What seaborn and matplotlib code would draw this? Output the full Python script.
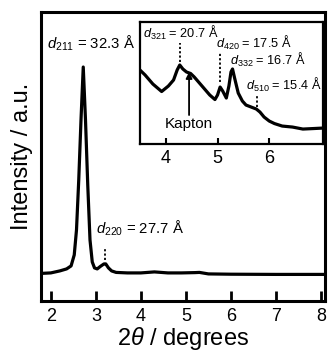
import matplotlib
matplotlib.use("Agg")
import matplotlib.pyplot as plt
import pandas as pd
import seaborn as sns

# main pattern (2theta in degrees, intensity in a.u.)
two_theta = [1.78, 2.0, 2.2, 2.35, 2.45, 2.52, 2.57, 2.62, 2.67, 2.72, 2.77, 2.82,
             2.87, 2.92, 2.97, 3.03, 3.1, 3.18, 3.22, 3.28, 3.35, 3.45, 3.7, 4.0,
             4.3, 4.6, 4.9, 5.2, 5.3, 5.5, 6.0, 7.0, 8.09]
intensity = [27.5, 28, 30, 32, 35, 46, 71, 121, 181, 234, 181, 116,
             61, 39, 33, 32, 34.5, 37, 37, 33, 30, 28.5, 28, 28,
             29, 28, 28, 28.3, 28.5, 27, 26.7, 26.5, 26.5]

# inset: zoom of 3.5-7 degrees
inset_theta = [3.5, 3.6, 3.75, 3.92, 4.05, 4.15, 4.22, 4.27, 4.33, 4.4, 4.48, 4.55,
               4.65, 4.75, 4.85, 4.95, 5.0, 5.05, 5.1, 5.17, 5.22, 5.26, 5.29, 5.33,
               5.4, 5.48, 5.55, 5.65, 5.75, 5.82, 5.9, 6.0, 6.1, 6.25, 6.45, 6.65,
               6.85, 7.04]
inset_int = [74, 69, 60, 52.5, 58, 64, 74, 79, 75, 72, 70.5, 67,
             61, 55, 49, 44.5, 49, 57, 53, 46, 58, 72, 75, 66,
             51, 43, 39, 37, 35, 32, 27, 23, 20.5, 18, 17, 15,
             15.5, 16]

kapton_x = 4.45

sns.set_style("ticks", {"axes.edgecolor": "black", "xtick.color": "black",
                        "text.color": "black", "axes.labelcolor": "black"})
plt.rcParams["font.family"] = ["Liberation Sans", "DejaVu Sans"]
plt.rcParams["mathtext.fontset"] = "custom"
plt.rcParams["mathtext.rm"] = "Liberation Sans"
plt.rcParams["mathtext.it"] = "Liberation Sans:italic"

main_df = pd.DataFrame({"x": two_theta, "y": intensity})
inset_df = pd.DataFrame({"x": inset_theta, "y": inset_int})

fig = plt.figure(figsize=(3.3, 3.54), dpi=100)
ax = fig.add_axes([0.124, 0.150, 0.861, 0.816])
sns.lineplot(data=main_df, x="x", y="y", ax=ax, color="black", lw=2.3)
ax.set_xlim(1.78, 8.09)
ax.set_ylim(0, 289)
ax.set_xticks(range(2, 9))
ax.set_yticks([])
ax.tick_params(axis="x", direction="in", length=7, width=2, labelsize=13, pad=5)
for s in ax.spines.values():
    s.set_linewidth(2.2)
ax.set_xlabel(r"2$\theta$ / degrees", fontsize=17, labelpad=0)
ax.set_ylabel("Intensity / a.u.", fontsize=17, labelpad=6)

ax.text(2.89, 258, r"$d_{211}$ = 32.3 Å", fontsize=10.7, ha="center", va="center")
ax.text(3.0, 73, r"$d_{220}$ = 27.7 Å", fontsize=10.7, ha="left", va="center")
ax.plot([3.21, 3.21], [41, 53], color="black", lw=1.3, ls=(0, (1.2, 1.2)))

ins = fig.add_axes([0.424, 0.593, 0.555, 0.345])
sns.lineplot(data=inset_df, x="x", y="y", ax=ins, color="black", lw=2.3)
ins.set_xlim(3.5, 7.04)
ins.set_ylim(0, 122)
ins.set_xticks([4, 5, 6])
ins.set_yticks([])
ins.set_xlabel("")
ins.set_ylabel("")
ins.tick_params(axis="x", direction="in", length=4, width=1.5, labelsize=13, pad=4)
for s in ins.spines.values():
    s.set_linewidth(1.6)

dot = dict(color="black", lw=1.3, ls=(0, (1.2, 1.2)))
ins.text(3.55, 111, r"$d_{321}$ = 20.7 Å", fontsize=9.2, ha="left", va="center")
ins.plot([4.27, 4.27], [82, 101], **dot)
ins.text(4.98, 101.5, r"$d_{420}$ = 17.5 Å", fontsize=9.2, ha="left", va="center")
ins.plot([5.05, 5.05], [62, 91], **dot)
ins.text(5.25, 84, r"$d_{332}$ = 16.7 Å", fontsize=9.2, ha="left", va="center")
ins.text(5.55, 59, r"$d_{510}$ = 15.4 Å", fontsize=9.2, ha="left", va="center")
ins.plot([5.77, 5.77], [37, 49], **dot)
ins.annotate("", xy=(kapton_x, 72), xytext=(kapton_x, 29),
             arrowprops=dict(arrowstyle="-|>", color="black", lw=1.3,
                             mutation_scale=9, shrinkA=0, shrinkB=0))
ins.text(kapton_x, 20, "Kapton", fontsize=11, ha="center", va="center")

fig.savefig("out.png", dpi=100)
